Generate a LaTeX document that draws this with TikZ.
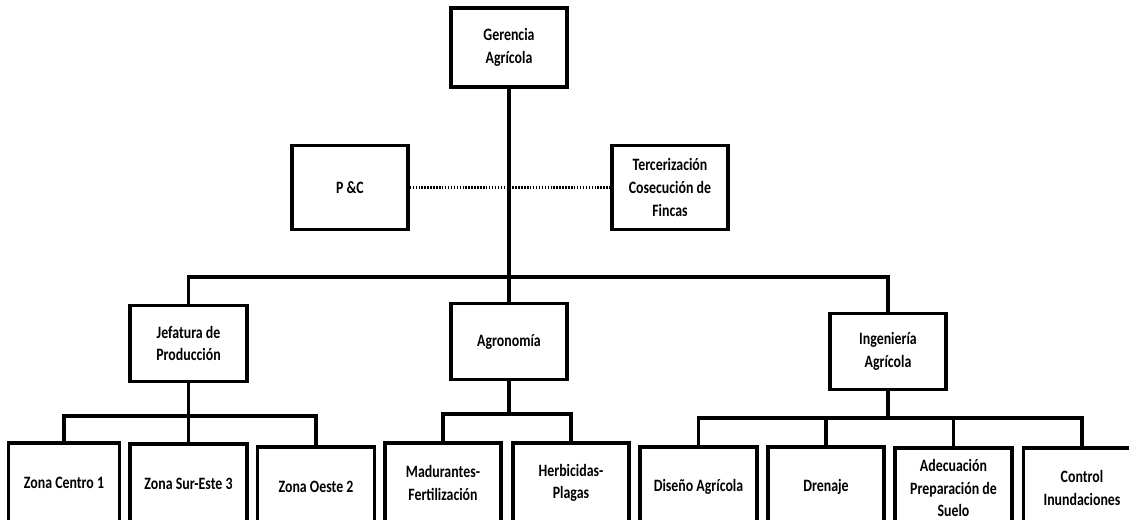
\documentclass[tikz,border=0pt]{standalone}
\usepackage{fontspec}
\setmainfont{Carlito}[FakeStretch=0.8]
\begin{document}
\begin{tikzpicture}[x=0.75pt,y=-0.75pt,
  box/.style={draw=black, line width=2.6pt, fill=white, minimum width=87pt, align=center,
    font=\bfseries\fontsize{13}{17}\selectfont},
  topbox/.style={box, minimum height=60pt},
  lowbox/.style={box, minimum height=60pt},
  link/.style={line width=2.6pt},
  dots/.style={line width=2.6pt, dash pattern=on 1.1pt off 1.1pt}]
\useasboundingbox (0,0) rectangle (1129,520);

\node[topbox, minimum height=59pt] (ger) at (509,47.5) {Gerencia\\Agrícola};
\node[topbox, minimum height=63pt] (pc) at (350,187.5) {P \&C};
\node[topbox, minimum height=63pt] (ter) at (670,187.5) {Tercerización\\Cosecución de\\Fincas};

\node[box, minimum height=57pt, minimum width=87.5pt] (jef) at (188.5,343.5) {Jefatura de\\Producción};
\node[box, minimum height=57pt] (agr) at (509,341.5) {Agronomía};
\node[box, minimum height=57pt] (ing) at (888,351.5) {Ingeniería\\Agrícola};

\node[lowbox, minimum width=83pt] (zc) at (64,483) {Zona Centro 1};
\node[lowbox, minimum width=87.5pt] (zs) at (188.5,484) {Zona Sur-Este 3};
\node[lowbox, minimum width=88pt] (zo) at (316,487) {Zona Oeste 2};
\node[lowbox] (mad) at (443,483) {Madurantes-\\Fertilización};
\node[lowbox] (her) at (571,483) {Herbicidas-\\Plagas};
\node[lowbox, minimum width=87.5pt] (dis) at (698.5,487) {Diseño Agrícola};
\node[lowbox] (dre) at (826,487) {Drenaje};
\node[lowbox, minimum width=87.5pt] (ade) at (953.5,488) {Adecuación\\Preparación de\\Suelo};
\node[lowbox, minimum width=88pt] (con) at (1082,488) {Control\\Inundaciones};

\coordinate (bus) at (509,277);
\coordinate (jbus) at (188.5,416);
\coordinate (abus) at (509,414);
\coordinate (ibus) at (888,418);

\draw[dots] (pc.east) -- (ter.west);
\draw[link] (ger.south) -- (agr.north);
\draw[link] (jef.north) |- (bus) -| (ing.north);

\draw[link] (jef.south) -- (zs.north);
\draw[link] (zc.north) |- (jbus) -| (zo.north);

\draw[link] (agr.south) -- (abus);
\draw[link] (mad.north) |- (abus) -| (her.north);

\draw[link] (ing.south) -- (ibus);
\draw[link] (dis.north) |- (ibus) -| (con.north);
\draw[link] (dre.north) -- (dre.north |- ibus);
\draw[link] (ade.north) -- (ade.north |- ibus);
\end{tikzpicture}
\end{document}
